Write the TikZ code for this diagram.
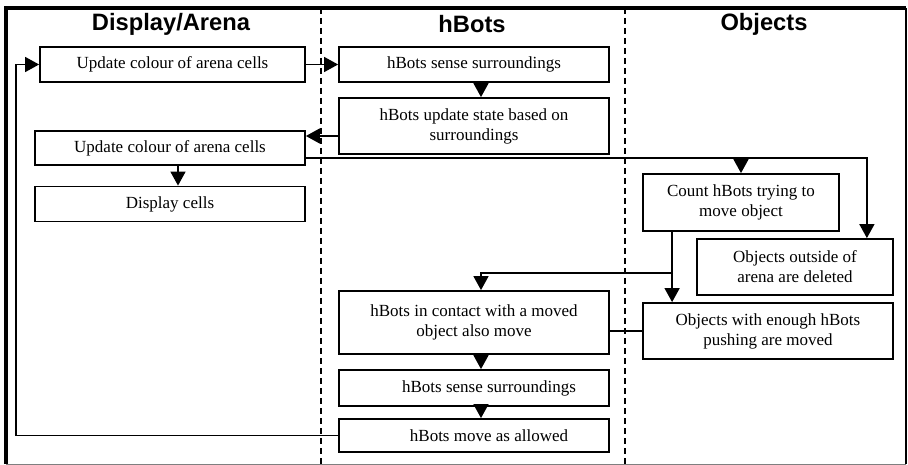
\documentclass[tikz,border=0pt]{standalone}
\usepackage{fontspec}
\setmainfont{Liberation Serif}
\newfontfamily\headfont{Liberation Sans}
\usepackage{tikz}
\usetikzlibrary{arrows.meta,positioning}
\definecolor{framegray}{RGB}{127,127,127}
\tikzstyle{box} = [rectangle, draw=black, fill=white, line width=1.8pt, align=center, inner sep=2pt, font=\fontsize{17}{20}\selectfont]
\tikzstyle{flow} = [line width=1.5pt, -{Triangle[length=14pt,width=15pt]}]
\tikzstyle{link} = [line width=1.5pt]
\tikzstyle{lanesep} = [line width=1.5pt, dash pattern=on 6pt off 4pt]
\tikzstyle{lane} = [font=\headfont\bfseries\fontsize{23.7}{26}\selectfont]

\begin{document}
\begin{tikzpicture}[x=1pt, y=-1pt]
    \useasboundingbox (0,0) rectangle (908,465);

    % Frame and lanes
    \draw[framegray, line width=1pt] (6,464) -- (906,464);
    \draw[line width=1.5pt] (906,464) -- (906,8);
    \draw[line width=3.5pt] (6,464) -- (6,8) -- (906,8);
    \foreach \x in {321,625}
        \draw[lanesep] (\x,8) -- (\x,464);

    \node[lane] (arena) at (171,24) {Display/Arena};
    \node[lane] (bots) at (472,24) {hBots};
    \node[lane] (objects) at (764,24) {Objects};

    % Display/Arena
    \node[box, minimum width=265pt, minimum height=35pt] (colour1) at (172.5,64.5) {Update colour of arena cells};
    \node[box, minimum width=270pt, minimum height=34pt] (colour2) at (170,148) {Update colour of arena cells};
    \node[box, minimum width=270pt, minimum height=35pt] (display) at (170,204) {Display cells};

    % hBots
    \node[box, minimum width=270pt, minimum height=35pt] (sense1) at (474,64.5) {hBots sense surroundings};
    \node[box, minimum width=270pt, minimum height=56pt] (state) at (474,126) {hBots update state based on\\surroundings};
    \node[box, minimum width=270pt, minimum height=63pt] (contact) at (474,322.5) {hBots in contact with a moved\\object also move};
    \node[box, minimum width=270pt, minimum height=36pt] (sense2) at (474,388) {\hspace*{30pt}hBots sense surroundings};
    \node[box, minimum width=270pt, minimum height=33pt] (move) at (474,435.5) {\hspace*{30pt}hBots move as allowed};

    % Objects
    \node[box, minimum width=196pt, minimum height=57pt] (count) at (741,202.5) {Count hBots trying to\\move object};
    \node[box, minimum width=196pt, minimum height=56pt] (delete) at (795,267) {Objects outside of\\arena are deleted};
    \node[box, minimum width=250pt, minimum height=56pt] (pushed) at (768,331) {Objects with enough hBots\\pushing are moved};

    % Connectors
    \draw[flow] (colour1.east) -- (sense1.west);
    \draw[flow] ([xshift=7pt]sense1.south) -- ([xshift=7pt]state.north);
    \draw[flow] ([yshift=-10pt]state.west) -- ([yshift=-10pt]state.west -| colour2.east);
    \draw[flow] ([xshift=8pt]colour2.south) -- ([xshift=8pt]display.north);

    \coordinate (split) at ([yshift=-10pt]colour2.east);
    \draw[flow] (split) -| ([xshift=-27pt]delete.north east);
    \draw[flow] (split -| count.north) -- (count.north);

    \coordinate (fork) at (673,273);
    \draw[flow] ([xshift=30pt]count.south west) -- ([xshift=30pt]pushed.north west);
    \draw[flow] (fork) -| ([xshift=7pt]contact.north);
    \draw[link] (contact.east |- pushed.west) -- (pushed.west);

    \draw[flow] ([xshift=7pt]contact.south) -- ([xshift=7pt]sense2.north);
    \draw[flow] ([xshift=7pt]sense2.south) -- ([xshift=7pt]move.north);
    \draw[flow] (move.west) -- ++(-322,0) |- (colour1.west);
\end{tikzpicture}
\end{document}
